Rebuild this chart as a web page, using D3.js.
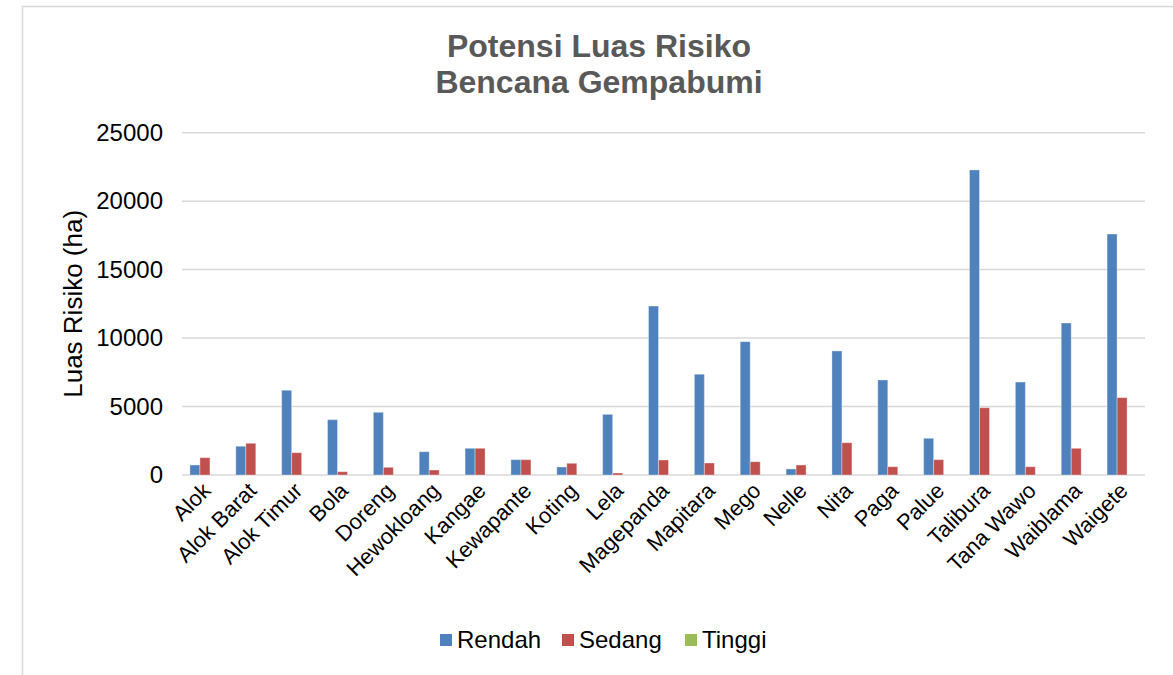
<!DOCTYPE html>
<html>
<head>
<meta charset="utf-8">
<script src="https://cdn.jsdelivr.net/npm/d3@7"></script>
<style>
  html, body { margin: 0; padding: 0; background: #fff; }
  svg { display: block; font-family: "Liberation Sans", Arial, sans-serif; }
</style>
</head>
<body>
<svg id="chart" width="1173" height="675"></svg>
<script>
// Villages (desa) in the district
const categories = ["Alok", "Alok Barat", "Alok Timur", "Bola", "Doreng", "Hewokloang",
  "Kangae", "Kewapante", "Koting", "Lela", "Magepanda", "Mapitara", "Mego", "Nelle",
  "Nita", "Paga", "Palue", "Talibura", "Tana Wawo", "Waiblama", "Waigete"];

// Risk area per class (ha)
const rendah = [730, 2100, 6190, 4040, 4580, 1700, 1950, 1120, 585, 4430, 12340, 7360,
  9740, 440, 9060, 6940, 2680, 22280, 6790, 11100, 17600];
const sedang = [1265, 2315, 1630, 240, 560, 365, 1950, 1120, 855, 145, 1095, 875,
  970, 730, 2360, 605, 1120, 4915, 605, 1950, 5650];
const tinggi = [0, 0, 0, 0, 0, 0, 0, 0, 0, 0, 0, 0, 0, 0, 0, 0, 0, 0, 0, 0, 0];

const seriesNames = ["Rendah", "Sedang", "Tinggi"];
const seriesColors = ["#4f81bd", "#c0504d", "#9bbb59"];
const yTicks = [0, 5000, 10000, 15000, 20000, 25000];

const series = [rendah, sedang, tinggi];

const svg = d3.select("#chart");

// outer chart frame
svg.append("rect")
  .attr("x", 22.5).attr("y", 6.5)
  .attr("width", 1300).attr("height", 800)
  .attr("fill", "#fff")
  .attr("stroke", "#d9d9d9").attr("stroke-width", 1.5);

const plot = { left: 182, right: 1145, top: 132.7, bottom: 475 };

const x = d3.scaleBand()
  .domain(categories)
  .range([plot.left, plot.right])
  .paddingInner(0.346)
  .paddingOuter(0.173);

const xs = d3.scaleBand()
  .domain(seriesNames)
  .range([0, x.bandwidth()]);

const y = d3.scaleLinear()
  .domain([0, 25000])
  .range([plot.bottom, plot.top]);

// gridlines
svg.append("g")
  .selectAll("line")
  .data(yTicks)
  .join("line")
  .attr("x1", plot.left).attr("x2", plot.right)
  .attr("y1", d => y(d)).attr("y2", d => y(d))
  .attr("stroke", "#d9d9d9").attr("stroke-width", 1.5);

// y axis labels
const yAxis = svg.append("g")
  .attr("transform", `translate(${plot.left},0)`)
  .call(d3.axisLeft(y).tickValues(yTicks).tickSize(0).tickPadding(19).tickFormat(d3.format("d")));
yAxis.select(".domain").remove();
yAxis.selectAll("text")
  .attr("font-size", 24)
  .attr("fill", "#000")
  .attr("font-family", "Liberation Sans, Arial, sans-serif");

// bars
const groups = svg.append("g")
  .selectAll("g")
  .data(categories)
  .join("g")
  .attr("transform", d => `translate(${x(d)},0)`);

groups.selectAll("rect")
  .data((d, i) => seriesNames.map((s, k) => ({ s, k, v: series[k][i] })))
  .join("rect")
  .attr("x", d => xs(d.s))
  .attr("width", xs.bandwidth())
  .attr("y", d => y(d.v))
  .attr("height", d => y(0) - y(d.v))
  .attr("fill", d => seriesColors[d.k])
  .attr("stroke", "rgba(255,255,255,0.35)")
  .attr("stroke-width", 1);

// x axis labels
const xAxis = svg.append("g")
  .attr("transform", `translate(0,${plot.bottom})`)
  .call(d3.axisBottom(x).tickSize(0).tickPadding(0));
xAxis.select(".domain").remove();
xAxis.selectAll("text")
  .attr("font-size", 22)
  .attr("fill", "#000")
  .attr("font-family", "Liberation Sans, Arial, sans-serif")
  .attr("text-anchor", "end")
  .attr("dy", "0")
  .attr("transform", "translate(7,17) rotate(-45)");

// y axis title
svg.append("text")
  .attr("transform", `translate(82,${(plot.top + plot.bottom) / 2}) rotate(-90)`)
  .attr("text-anchor", "middle")
  .attr("font-size", 26)
  .attr("fill", "#000")
  .text("Luas Risiko (ha)");

// chart title
const title = svg.append("text")
  .attr("text-anchor", "middle")
  .attr("font-size", 32)
  .attr("font-weight", "bold")
  .attr("fill", "#595959");
title.append("tspan").attr("x", 599).attr("y", 57).text("Potensi Luas Risiko");
title.append("tspan").attr("x", 599).attr("y", 93).text("Bencana Gempabumi");

// legend
const legendX = [440, 562, 685];
const legend = svg.append("g")
  .selectAll("g")
  .data(seriesNames)
  .join("g")
  .attr("transform", (d, i) => `translate(${legendX[i]},648)`);
legend.append("rect")
  .attr("x", 0).attr("y", -14)
  .attr("width", 12).attr("height", 12)
  .attr("fill", (d, i) => seriesColors[i]);
legend.append("text")
  .attr("x", 17).attr("y", 0)
  .attr("font-size", 24)
  .attr("fill", "#000")
  .text(d => d);
</script>
</body>
</html>
